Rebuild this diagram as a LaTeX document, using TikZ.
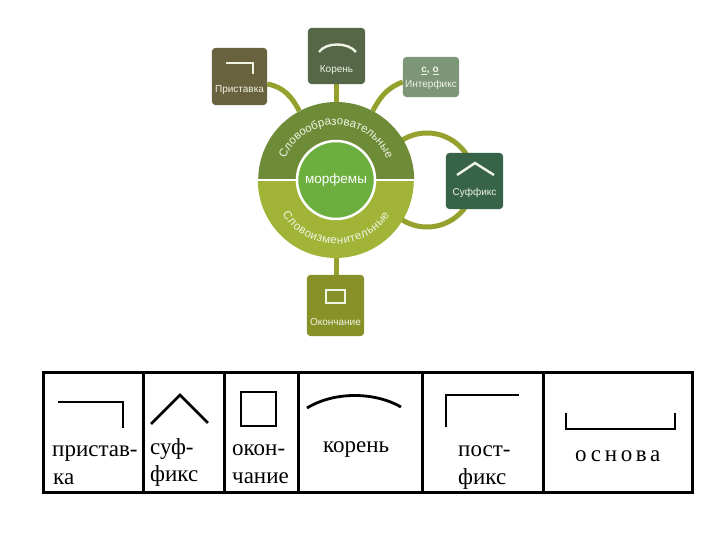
\documentclass[tikz,border=0pt]{standalone}
\usepackage{fontspec}
\setmainfont{Liberation Serif}
\setsansfont{Liberation Sans}
\usetikzlibrary{decorations.text}
\definecolor{conncol}{RGB}{150,160,45}
\definecolor{upcol}{RGB}{110,140,55}
\definecolor{lowcol}{RGB}{162,180,55}
\definecolor{incol}{RGB}{108,175,62}
\definecolor{pricol}{RGB}{105,98,62}
\definecolor{korcol}{RGB}{85,103,70}
\definecolor{intcol}{RGB}{125,150,120}
\definecolor{sufcol}{RGB}{55,100,72}
\definecolor{okocol}{RGB}{135,145,40}
\definecolor{labcol}{RGB}{240,244,228}
\begin{document}
\begin{tikzpicture}[x=1pt,y=1pt,
  conn/.style={draw=conncol, line width=5pt},
  mbox/.style={rounded corners=4pt, inner sep=0pt},
  sym/.style={draw=labcol, line width=2.4pt},
  lbl/.style={font=\sffamily\fontsize{10}{10}\selectfont, text=labcol, inner sep=0pt},
  tline/.style={line width=3pt},
  tsym/.style={line width=2.8pt},
  ttext/.style={font=\fontsize{23}{23}\selectfont, anchor=base west, inner sep=0pt}
]
\useasboundingbox (0,0) rectangle (720,540);
\fill[white] (0,0) rectangle (720,540);

% main circle anchor node
\node[circle, minimum size=156pt, inner sep=0pt] (main) at (336,360) {};

% boxes (placed first as nodes for anchors)
\path node[mbox, minimum width=55pt, minimum height=57pt] (pri) at (239.5,463.5) {}
      node[mbox, minimum width=57pt, minimum height=56pt] (kor) at (336.5,484) {}
      node[mbox, minimum width=56pt, minimum height=40pt] (int) at (431,463) {}
      node[mbox, minimum width=57pt, minimum height=56pt] (suf) at (474.5,359) {}
      node[mbox, minimum width=57pt, minimum height=61pt] (oko) at (335.5,234.5) {};

% connectors
\coordinate (ring) at (427,360);
\draw[conn] (ring) circle (47pt);
\draw[conn] ([yshift=-7.5pt]pri.east) to[out=-10,in=118] (main.118);
\draw[conn] (main.62) to[out=62,in=200] ([yshift=-5pt]int.west);
\draw[conn] (kor.south) -- (kor.south |- main.north);
\draw[conn] (main.south) -- (main.south |- oko.north);

% main circle
\fill[upcol] (main.east) arc (0:180:78pt) -- cycle;
\fill[lowcol] (main.west) arc (180:360:78pt) -- cycle;
\draw[white, line width=2.5pt] (main.west) -- (main.east);
\node[circle, fill=incol, draw=white, line width=2.5pt, minimum size=78pt, inner sep=0pt,
      text=white, font=\sffamily\fontsize{13.5}{13.5}\selectfont] (core) at (main.center) {морфемы};

\path[decorate, decoration={text along path, text align=fit to path,
  text={|\sffamily\fontsize{11.5}{11.5}\selectfont\color{labcol}|Словообразовательные}}]
  ([shift={(157:55pt)}]main.center) arc (157:23:55pt);
\path[decorate, decoration={text along path, text align=fit to path,
  text={|\sffamily\fontsize{11.5}{11.5}\selectfont\color{labcol}|Словоизменительные}}]
  ([shift={(213:64pt)}]main.center) arc (213:327:64pt);

% boxes filled
\fill[pricol, rounded corners=4pt] (pri.south west) rectangle (pri.north east);
\fill[korcol, rounded corners=4pt] (kor.south west) rectangle (kor.north east);
\fill[intcol, rounded corners=4pt] (int.south west) rectangle (int.north east);
\fill[sufcol, rounded corners=4pt] (suf.south west) rectangle (suf.north east);
\fill[okocol, rounded corners=4pt] (oko.south west) rectangle (oko.north east);

% box contents
\draw[sym] (226,477) -- (253,477) -- (253,466);
\node[lbl] (prit) at (239.5,450) {Приставка};
\draw[sym] (319,488) .. controls (326,498) and (348,498) .. (356,488);
\node[lbl] (kort) at (336.5,470) {Корень};
\node[lbl, font=\sffamily\bfseries\fontsize{10}{10}\selectfont] (intsym) at (430,469) {\underline{с}, \underline{о}};
\node[lbl] (intt) at (431,455) {Интерфикс};
\draw[sym] (457,365) -- (475,377) -- (494,365);
\node[lbl] (suft) at (474.5,347) {Суффикс};
\draw[sym] (326,237) rectangle (345,250);
\node[lbl] (okot) at (335.5,218) {Окончание};

% table
\draw[tline] (43,47) rectangle (692,167);
\foreach \xx in {143,224,298,422,543} \draw[tline] (\xx,47) -- (\xx,167);
\draw[tsym] (58,138) -- (123,138) -- (123,112);
\draw[tsym] (151,116) -- (180,145) -- (208,117);
\draw[tsym] (241,114) rectangle (276,148);
\draw[tsym] (307,132) .. controls (335,149) and (375,148) .. (401,133);
\draw[tsym] (446,113) -- (446,145) -- (519,145);
\draw[tsym] (566,127) -- (566,111) -- (675,111) -- (675,127);

\node[ttext] (t1a) at (52,83) {пристав-};
\node[ttext] (t1b) at (53,55) {ка};
\node[ttext] (t2a) at (150,85) {суф-};
\node[ttext] (t2b) at (150,58) {фикс};
\node[ttext] (t3a) at (232,84) {окон-};
\node[ttext] (t3b) at (232,56) {чание};
\node[ttext] (t4) at (323,87) {корень};
\node[ttext] (t5a) at (458,83) {пост-};
\node[ttext] (t5b) at (458,55) {фикс};
\node[ttext, font=\fontsize{23}{23}\selectfont\addfontfeatures{LetterSpace=16}] (t6) at (575,78) {основа};
\end{tikzpicture}
\end{document}
